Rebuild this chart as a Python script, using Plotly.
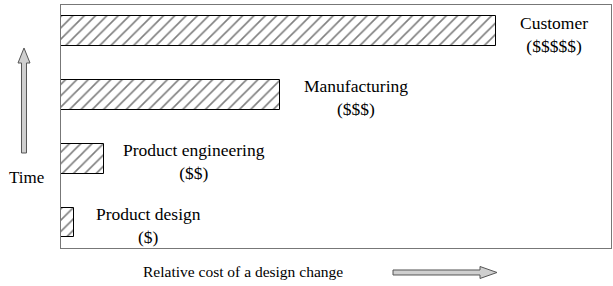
import plotly.graph_objects as go

# Data
stages = ["Product design", "Product engineering", "Manufacturing", "Customer"]
cost_labels = ["($)", "($$)", "($$$)", "($$$$$)"]
relative_cost = [2.4, 7.8, 39.8, 79.1]
x_label = "Relative cost of a design change"
y_label = "Time"

W, H = 613, 286
L, R, T, B = 61, 2, 5, 38
FONT = "Liberation Serif, Times New Roman, serif"

def px(x):
    return (x - L) / (W - L - R)

def py(y):
    return (H - B - y) / (H - T - B)

ypos = list(range(len(stages)))

fig = go.Figure()
fig.add_trace(go.Bar(
    x=relative_cost, y=ypos, orientation="h", width=0.47,
    marker=dict(color="white", line=dict(color="black", width=1),
                pattern=dict(shape="/", fgcolor="black", bgcolor="white", size=8, solidity=0.2)),
    hoverinfo="skip", showlegend=False,
))

shifts = [20, 17, 22, 22]
for yv, xv, name, c, s in zip(ypos, relative_cost, stages, cost_labels, shifts):
    fig.add_annotation(x=xv, y=yv, xref="x", yref="y", xanchor="left", yanchor="middle",
                       xshift=s, yshift=-3, showarrow=False, align="center",
                       text=f"{name}<br>{c}", font=dict(family=FONT, size=17.5, color="black"))

# axis-like labels
fig.add_annotation(x=px(243), y=py(271), xref="paper", yref="paper", showarrow=False,
                   xanchor="center", yanchor="middle",
                   text=x_label, font=dict(family=FONT, size=15.5, color="black"))
fig.add_annotation(x=px(26), y=py(177), xref="paper", yref="paper", showarrow=False,
                   xanchor="center", yanchor="middle",
                   text=y_label, font=dict(family=FONT, size=17, color="black"))

# arrows (decorative)
up = [(21.5, 153), (21.5, 63), (18, 63), (24, 48), (30, 63), (26.5, 63), (26.5, 153)]
right = [(393, 270), (480, 270), (480, 266.5), (497, 272.5), (480, 278.5), (480, 275), (393, 275)]
for pts in (up, right):
    d = "M " + " L ".join(f"{px(a):.5f},{py(b):.5f}" for a, b in pts) + " Z"
    fig.add_shape(type="path", path=d, xref="paper", yref="paper",
                  fillcolor="#cfcfcf", line=dict(color="#555555", width=1))

fig.update_xaxes(range=[0, 100], showgrid=False, zeroline=False, showticklabels=False,
                 ticks="", showline=True, mirror=True, linecolor="#777777", linewidth=1)
fig.update_yaxes(range=[-0.4, 3.41], showgrid=False, zeroline=False, showticklabels=False,
                 ticks="", showline=True, mirror=True, linecolor="#777777", linewidth=1)
fig.update_layout(width=W, height=H, margin=dict(l=L, r=R, t=T, b=B),
                  plot_bgcolor="white", paper_bgcolor="white", bargap=0)

fig.write_html("out.html")
